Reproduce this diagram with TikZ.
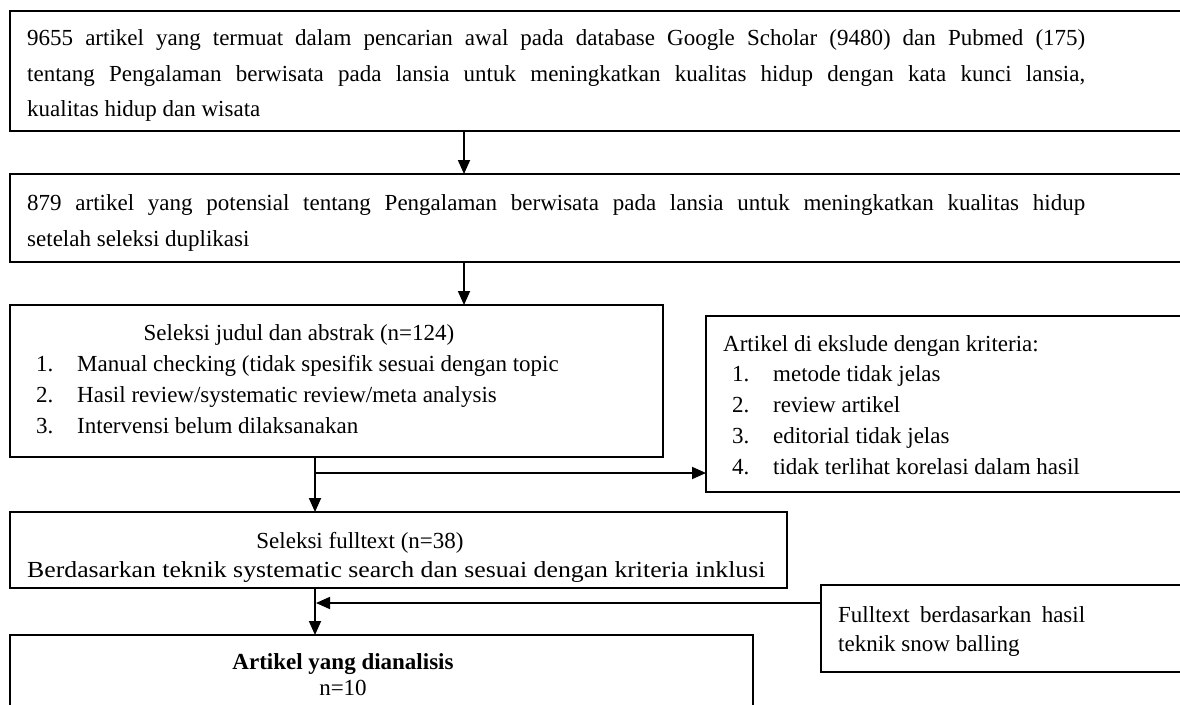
\documentclass[tikz,border=0pt]{standalone}
\usepackage{fontspec}
\setmainfont{Liberation Serif}
\usetikzlibrary{arrows.meta}
\begin{document}
\begin{tikzpicture}[x=1pt,y=-1pt,
 box/.style={draw, line width=1.8pt, inner sep=0pt, outer sep=0pt, rectangle, anchor=north west},
 txt/.style={anchor=base west, inner sep=0pt, font=\fontsize{23}{28}\selectfont},
 ctxt/.style={anchor=base, inner sep=0pt, font=\fontsize{23}{28}\selectfont},
 conn/.style={line width=1.8pt},
 arr/.style={conn, -{Triangle[length=14pt,width=12pt]}}]
\useasboundingbox (0,0) rectangle (1180,704);
\clip (0,0) rectangle (1180,704);
% boxes
\node[box, minimum width=1172pt, minimum height=120pt] (b1) at (10,11) {};
\node[box, minimum width=1172pt, minimum height=88pt] (b2) at (10,174) {};
\node[box, minimum width=653pt, minimum height=152pt] (b3) at (10,305) {};
\node[box, minimum width=476pt, minimum height=176pt] (b4) at (706,316) {};
\node[box, minimum width=777pt, minimum height=76pt] (b5) at (10,512) {};
\node[box, minimum width=361pt, minimum height=87pt] (b6) at (821,585) {};
\node[box, minimum width=743pt, minimum height=100pt] (b7) at (10,635) {};
% box 1 text
\node[txt] (t11) at (27,45) {\makebox[1058pt][s]{9655 artikel yang termuat dalam pencarian awal pada database Google Scholar (9480) dan Pubmed (175)}};
\node[txt] (t12) at (27,81) {\makebox[1058pt][s]{tentang Pengalaman berwisata pada lansia untuk meningkatkan kualitas hidup dengan kata kunci lansia,}};
\node[txt] (t13) at (27,116) {kualitas hidup dan wisata};
% box 2 text
\node[txt] (t21) at (27,210) {\makebox[1058pt][s]{879 artikel yang potensial tentang Pengalaman berwisata pada lansia untuk meningkatkan kualitas hidup}};
\node[txt] (t22) at (27,246) {setelah seleksi duplikasi};
% box 3 text
\node[ctxt] (t30) at (299,340) {Seleksi judul dan abstrak (n=124)};
\node[txt] (n31) at (36,371) {1.};
\node[txt] (t31) at (77,371) {Manual checking (tidak spesifik sesuai dengan topic};
\node[txt] (n32) at (36,402) {2.};
\node[txt] (t32) at (77,402) {Hasil review/systematic review/meta analysis};
\node[txt] (n33) at (36,433) {3.};
\node[txt] (t33) at (77,433) {Intervensi belum dilaksanakan};
% box 4 text
\node[txt] (t40) at (723,351) {Artikel di ekslude dengan kriteria:};
\node[txt] (n41) at (732,381) {1.};
\node[txt] (t41) at (773,381) {metode tidak jelas};
\node[txt] (n42) at (732,412) {2.};
\node[txt] (t42) at (773,412) {review artikel};
\node[txt] (n43) at (732,443) {3.};
\node[txt] (t43) at (773,443) {editorial tidak jelas};
\node[txt] (n44) at (732,474) {4.};
\node[txt] (t44) at (773,474) {tidak terlihat korelasi dalam hasil};
% box 5 text
\node[ctxt] (t50) at (360,548) {Seleksi fulltext (n=38)};
\begin{scope}
\clip (b5.north west) rectangle ([yshift=5.5pt]b5.south east);
\node[txt] (t51) at (27,577) {\scalebox{1.12}[1]{Berdasarkan teknik systematic search dan sesuai dengan kriteria inklusi}};
\end{scope}
% box 6 text
\node[txt] (t61) at (838,622) {\makebox[247pt][s]{Fulltext berdasarkan hasil}};
\node[txt] (t62) at (838,651) {teknik snow balling};
% box 7 text
\node[ctxt] (t70) at (343,669) {\bfseries Artikel yang dianalisis};
\node[ctxt] (t71) at (343,695) {n=10};
% connectors
\coordinate (c1) at (464,0);
\coordinate (c2) at (315,473);
\coordinate (c3) at (315,603);
\draw[arr] (b1.south -| c1) -- (b2.north -| c1);
\draw[arr] (b2.south -| c1) -- (b3.north -| c1);
\draw[arr] (b3.south -| c2) -- (b5.north -| c2);
\draw[arr] (c2) -- (b4.west |- c2);
\draw[arr] (b5.south -| c2) -- (b7.north -| c2);
\draw[arr] (b6.west |- c3) -- ([xshift=1pt]c3);
\end{tikzpicture}
\end{document}
